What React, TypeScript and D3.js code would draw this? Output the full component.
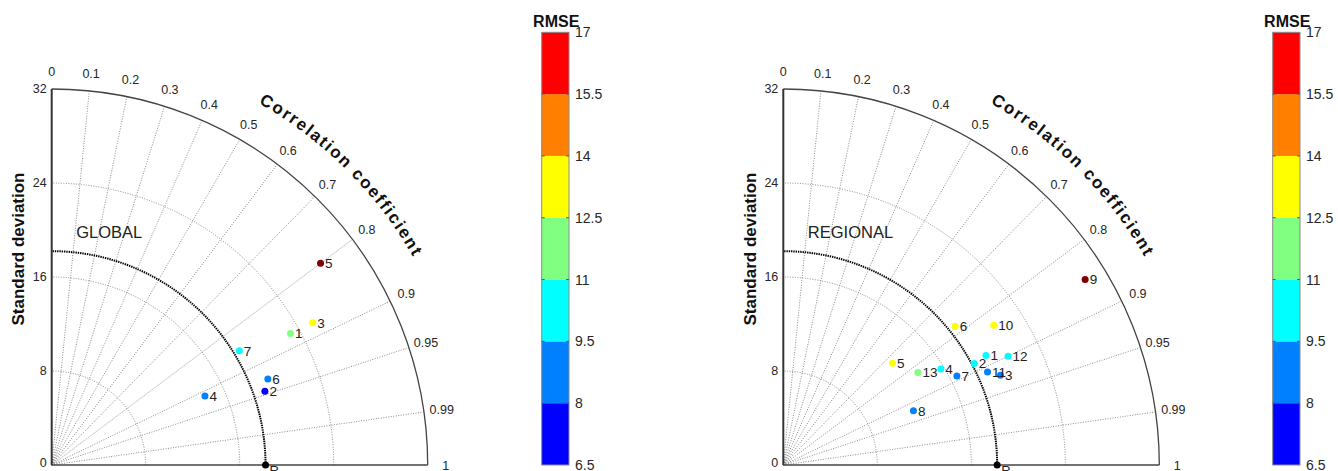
import React, { useEffect, useRef } from "react";
import * as d3 from "d3";

const W = 1338;
const H = 471;

// axes of the Taylor diagram
const stdTicks = [0, 8, 16, 24, 32];
const stdGrid = [8, 16, 24];
const corrTicks = [0, 0.1, 0.2, 0.3, 0.4, 0.5, 0.6, 0.7, 0.8, 0.9, 0.95, 0.99, 1];
const refStd = 18.2;

// GLOBAL panel
const globalIds = ["1", "2", "3", "4", "5", "6", "7"];
const globalStd = [23.2, 19.2, 25.3, 14.3, 28.6, 19.8, 18.7];
const globalCorr = [0.876, 0.945, 0.878, 0.912, 0.8, 0.929, 0.854];
const globalRmse = [11.4, 6.8, 13.1, 8.6, 17.8, 8.4, 10.2];

// REGIONAL panel
const regionalIds = ["1", "2", "3", "4", "5", "6", "7", "8", "9", "10", "11", "12", "13"];
const regionalStd = [19.6, 18.4, 20.0, 15.7, 12.7, 18.8, 16.6, 12.0, 30.15, 21.5, 19.1, 21.25, 13.9];
const regionalCorr = [0.88, 0.883, 0.924, 0.854, 0.732, 0.778, 0.89, 0.923, 0.852, 0.833, 0.91, 0.9, 0.824];
const regionalRmse = [10.0, 9.8, 8.5, 9.9, 13.0, 12.8, 8.8, 8.6, 17.6, 12.9, 8.7, 10.2, 11.6];

// colour bar
const rmseBreaks = [6.5, 8, 9.5, 11, 12.5, 14, 15.5, 17];
const rmseColors = ["#0000ff", "#0080ff", "#00ffff", "#80ff80", "#ffff00", "#ff8000", "#ff0000", "#800000"];
const rmseLabels = ["6.5", "8", "9.5", "11", "12.5", "14", "15.5", "17"];

const FONT = "'Liberation Sans', Arial, Helvetica, sans-serif";

const App: React.FC = () => {
  const svgRef = useRef<SVGSVGElement | null>(null);

  useEffect(() => {
    const svg = d3.select(svgRef.current);
    svg.selectAll("*").remove();

    const color = d3
      .scaleThreshold<number, string>()
      .domain(rmseBreaks.slice(1))
      .range(rmseColors);

    const drawTaylor = (
      key: string,
      ox: number,
      oy: number,
      title: string,
      ids: string[],
      std: number[],
      corr: number[],
      rmse: number[]
    ) => {
      const r = d3.scaleLinear().domain([0, 32]).range([0, 376]);
      const R = r(32);
      const g = svg.append("g").attr("transform", `translate(${ox},${oy})`);
      const pos = (s: number, c: number) => {
        const a = Math.acos(c);
        return [r(s) * Math.cos(a), -r(s) * Math.sin(a)];
      };
      const arcPath = (rad: number) =>
        `M${rad},0 A${rad},${rad} 0 0 0 0,${-rad}`;

      // correlation rays
      corrTicks
        .filter((c) => c > 0 && c < 1)
        .forEach((c) => {
          const [x, y] = pos(32, c);
          g.append("line")
            .attr("x1", 0)
            .attr("y1", 0)
            .attr("x2", x)
            .attr("y2", y)
            .attr("stroke", "#6f6f6f")
            .attr("stroke-width", 0.8)
            .attr("stroke-dasharray", "1 1.5");
        });

      // std circles
      stdGrid.forEach((s) => {
        g.append("path")
          .attr("d", arcPath(r(s)))
          .attr("fill", "none")
          .attr("stroke", "#6f6f6f")
          .attr("stroke-width", 0.8)
          .attr("stroke-dasharray", "1 1.5");
      });

      // reference std arc
      g.append("path")
        .attr("d", arcPath(r(refStd)))
        .attr("fill", "none")
        .attr("stroke", "#000")
        .attr("stroke-width", 2)
        .attr("stroke-dasharray", "1.4 0.9");

      // outer arc and axes
      g.append("path")
        .attr("d", arcPath(R))
        .attr("fill", "none")
        .attr("stroke", "#444")
        .attr("stroke-width", 1.3);
      g.append("line")
        .attr("x1", 0)
        .attr("y1", 0)
        .attr("x2", R)
        .attr("y2", 0)
        .attr("stroke", "#444")
        .attr("stroke-width", 1.3);
      g.append("line")
        .attr("x1", 0)
        .attr("y1", 0)
        .attr("x2", 0)
        .attr("y2", -R)
        .attr("stroke", "#333")
        .attr("stroke-width", 2);

      // std tick labels
      stdTicks.forEach((s) => {
        g.append("text")
          .attr("x", -5)
          .attr("y", -r(s) + (s === 0 ? -2 : 0))
          .attr("text-anchor", "end")
          .attr("dominant-baseline", "central")
          .attr("font-size", 12.5)
          .attr("fill", "#262626")
          .text(String(s));
      });

      // correlation tick labels
      corrTicks.forEach((c) => {
        const a = Math.acos(c);
        const rr = R + 18;
        g.append("text")
          .attr("x", rr * Math.cos(a))
          .attr("y", -rr * Math.sin(a) + 1)
          .attr("text-anchor", "middle")
          .attr("dominant-baseline", "central")
          .attr("font-size", 12.5)
          .attr("fill", "#262626")
          .text(String(c));
      });

      // curved title
      const tr = R + 41;
      const a0 = (80 * Math.PI) / 180;
      const a1 = (10 * Math.PI) / 180;
      g.append("path")
        .attr("id", `corrArc-${key}`)
        .attr(
          "d",
          `M${tr * Math.cos(a0)},${-tr * Math.sin(a0)} A${tr},${tr} 0 0 1 ${tr * Math.cos(a1)},${-tr * Math.sin(a1)}`
        )
        .attr("fill", "none");
      g.append("text")
        .attr("font-size", 17)
        .attr("font-weight", "bold")
        .attr("letter-spacing", 1.8)
        .attr("fill", "#111")
        .append("textPath")
        .attr("href", `#corrArc-${key}`)
        .attr("startOffset", "50%")
        .attr("text-anchor", "middle")
        .text("Correlation coefficient");

      g.append("text")
        .attr("transform", `translate(${-33},${-216}) rotate(-90)`)
        .attr("text-anchor", "middle")
        .attr("dominant-baseline", "central")
        .attr("font-size", 17)
        .attr("font-weight", "bold")
        .attr("fill", "#111")
        .text("Standard deviation");

      g.append("text")
        .attr("x", 24.5)
        .attr("y", -227.5)
        .attr("font-size", 16.5)
        .attr("fill", "#222")
        .text(title);

      // reference point
      g.append("circle")
        .attr("cx", r(refStd))
        .attr("cy", 0)
        .attr("r", 3.5)
        .attr("fill", "#000");
      g.append("text")
        .attr("x", r(refStd) + 4)
        .attr("y", 10)
        .attr("font-size", 13)
        .attr("fill", "#222")
        .text("R");

      // model points
      ids.forEach((id, i) => {
        const [x, y] = pos(std[i], corr[i]);
        g.append("circle")
          .attr("cx", x)
          .attr("cy", y)
          .attr("r", 3.5)
          .attr("fill", color(rmse[i]));
        g.append("text")
          .attr("x", x + 4.5)
          .attr("y", y)
          .attr("dy", "0.36em")
          .attr("font-size", 13.5)
          .attr("fill", "#222")
          .text(id);
      });
    };

    const drawColorbar = (x0: number) => {
      const y = d3.scaleLinear().domain([6.5, 17]).range([465, 32.3]);
      const w = 27.3;
      const g = svg.append("g");
      for (let i = 0; i < rmseBreaks.length - 1; i++) {
        g.append("rect")
          .attr("x", x0)
          .attr("y", y(rmseBreaks[i + 1]))
          .attr("width", w)
          .attr("height", y(rmseBreaks[i]) - y(rmseBreaks[i + 1]))
          .attr("fill", rmseColors[i]);
      }
      g.append("rect")
        .attr("x", x0)
        .attr("y", y(17))
        .attr("width", w)
        .attr("height", y(6.5) - y(17))
        .attr("fill", "none")
        .attr("stroke", "#8a8a8a")
        .attr("stroke-width", 1);
      rmseBreaks.forEach((v, i) => {
        const yy = y(v);
        if (i > 0 && i < rmseBreaks.length - 1) {
          g.append("line")
            .attr("x1", x0)
            .attr("x2", x0 + 3)
            .attr("y1", yy)
            .attr("y2", yy)
            .attr("stroke", "#555");
          g.append("line")
            .attr("x1", x0 + w - 3)
            .attr("x2", x0 + w)
            .attr("y1", yy)
            .attr("y2", yy)
            .attr("stroke", "#555");
        }
        g.append("text")
          .attr("x", x0 + w + 6)
          .attr("y", yy)
          .attr("dominant-baseline", "central")
          .attr("font-size", 14)
          .attr("fill", "#262626")
          .text(rmseLabels[i]);
      });
      g.append("text")
        .attr("x", x0 + 14.5)
        .attr("y", 27)
        .attr("text-anchor", "middle")
        .attr("font-size", 16)
        .attr("font-weight", "bold")
        .attr("fill", "#111")
        .text("RMSE");
    };

    drawTaylor("g", 51.7, 465, "GLOBAL", globalIds, globalStd, globalCorr, globalRmse);
    drawTaylor("r", 783.3, 465, "REGIONAL", regionalIds, regionalStd, regionalCorr, regionalRmse);
    drawColorbar(541.7);
    drawColorbar(1272.7);
  }, []);

  return (
    <div style={{ position: "fixed", left: 0, top: 0, width: W, height: H, background: "#fff" }}>
      <svg ref={svgRef} width={W} height={H} style={{ display: "block", fontFamily: FONT }}></svg>
    </div>
  );
};

export default App;
